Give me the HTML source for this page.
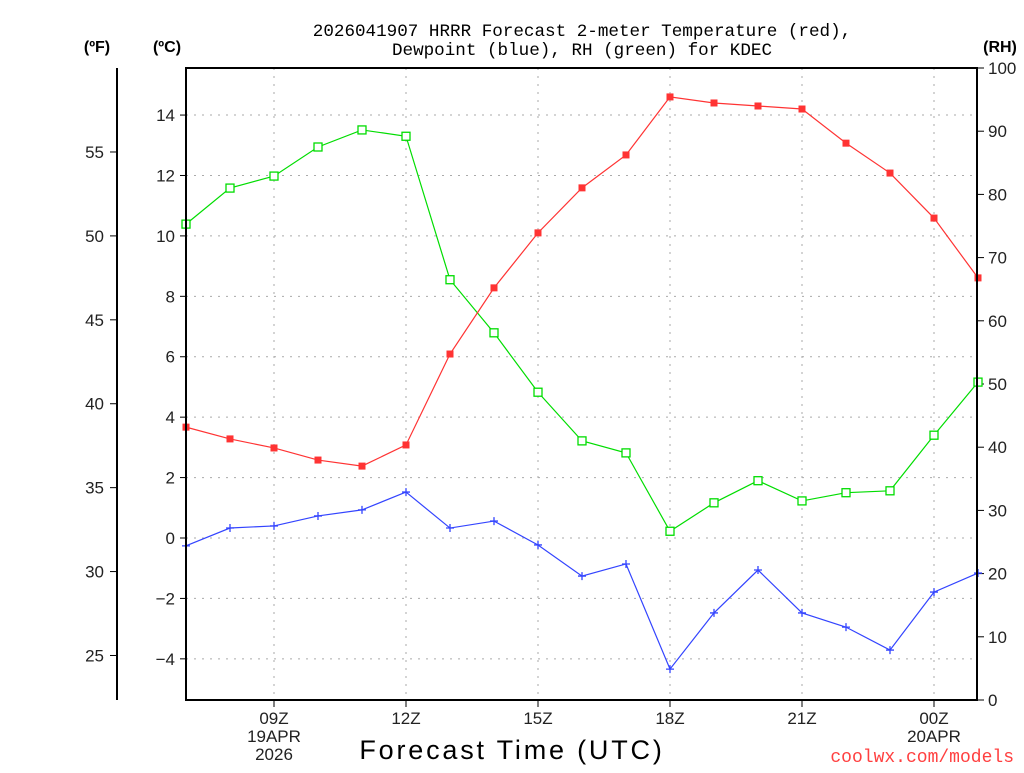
<!DOCTYPE html>
<html><head><meta charset="utf-8"><style>
body{margin:0;background:#fff;width:1024px;height:768px;overflow:hidden}
svg text{font-family:"Liberation Sans","DejaVu Sans",sans-serif}
</style></head><body>
<svg id="chart" width="1024" height="768" xmlns="http://www.w3.org/2000/svg">
<text x="582" y="36" font-size="17.6" text-anchor="middle" fill="#000" style="font-family:'Liberation Mono',monospace">2026041907 HRRR Forecast 2-meter Temperature (red),</text>
<text x="582" y="55" font-size="17.6" text-anchor="middle" fill="#000" style="font-family:'Liberation Mono',monospace">Dewpoint (blue), RH (green) for KDEC</text>
<text x="97" y="52" font-size="16" font-weight="bold" text-anchor="middle">(ºF)</text>
<text x="167" y="52" font-size="16" font-weight="bold" text-anchor="middle">(ºC)</text>
<text x="1000" y="52" font-size="16" font-weight="bold" text-anchor="middle">(RH)</text>
<text x="512" y="759" font-size="27" letter-spacing="2.8" text-anchor="middle">Forecast Time (UTC)</text>
<text x="1014" y="762" font-size="18" fill="#ff4040" text-anchor="end" style="font-family:'Liberation Mono',monospace">coolwx.com/models</text>
<g id="grid"></g><g id="axes"></g><g id="series"></g>
<rect x="186" y="68" width="791" height="632" fill="none" stroke="#000" stroke-width="2"/>
<line x1="117" y1="68" x2="117" y2="700" stroke="#000" stroke-width="2"/>
</svg>
<script>
const hours=["07","08","09","10","11","12","13","14","15","16","17","18","19","20","21","22","23","00","01"];
const tempC=[3.67,3.28,2.98,2.58,2.38,3.08,6.09,8.28,10.10,11.59,12.68,14.60,14.40,14.30,14.20,13.07,12.08,10.59,8.61];
const dewC=[-0.26,0.33,0.40,0.73,0.93,1.52,0.33,0.56,-0.23,-1.26,-0.86,-4.34,-2.48,-1.06,-2.48,-2.95,-3.71,-1.79,-1.16];
const rh=[75.3,81.0,82.9,87.5,90.2,89.2,66.5,58.1,48.7,41.0,39.1,26.7,31.2,34.7,31.5,32.8,33.1,41.9,50.3];
const cTicks=[-4,-2,0,2,4,6,8,10,12,14];
const fTicks=[25,30,35,40,45,50,55];
const rhTicks=[0,10,20,30,40,50,60,70,80,90,100];
const xTickIdx=[2,5,8,11,14,17];
const xTickLabels=["09Z","12Z","15Z","18Z","21Z","00Z"];
const xSub={2:["19APR","2026"],17:["20APR"]};

const NS="http://www.w3.org/2000/svg";
const X=i=>186+i*44;
const YC=c=>538-c*30.21;
const YF=f=>YC((f-32)*5/9);
const YR=r=>700-r*6.32;
function mk(parent,tag,attrs){const e=document.createElementNS(NS,tag);for(const k in attrs)e.setAttribute(k,attrs[k]);document.getElementById(parent).appendChild(e);return e;}
cTicks.forEach(c=>{
 const g=mk('grid','line',{x1:186,x2:977,y1:YC(c),y2:YC(c),stroke:'#aaa','stroke-dasharray':'2,6'});
 
 
 const t=mk('axes','line',{x1:180,x2:186,y1:YC(c),y2:YC(c),stroke:'#000'});
 
 
 const l=mk('axes','text',{x:175,y:YC(c)+6,'font-size':17,'text-anchor':'end',fill:'#222'});
 l.textContent=c<0?'\u2212'+(-c):c;
 
 
});
fTicks.forEach(f=>{
 const t=mk('axes','line',{x1:110,x2:117,y1:YF(f),y2:YF(f),stroke:'#000'});
 
 
 const l=mk('axes','text',{x:104,y:YF(f)+6,'font-size':17,'text-anchor':'end',fill:'#222'});
 l.textContent=f;
 
 
});
rhTicks.forEach(r=>{
 const t=mk('axes','line',{x1:977,x2:984,y1:YR(r),y2:YR(r),stroke:'#000'});
 
 
 const l=mk('axes','text',{x:988,y:YR(r)+6,'font-size':17,fill:'#222'});
 l.textContent=r;
 
 
});
xTickIdx.forEach((i,k)=>{
 const g=mk('grid','line',{x1:X(i),x2:X(i),y1:68,y2:700,stroke:'#aaa','stroke-dasharray':'2,6'});
 
 
 const t=mk('axes','line',{x1:X(i),x2:X(i),y1:700,y2:707,stroke:'#000'});
 
 
 const l=mk('axes','text',{x:X(i),y:724,'font-size':17,'text-anchor':'middle',fill:'#222'});
 l.textContent=xTickLabels[k];
 
 
 (xSub[i]||[]).forEach((s,j)=>{
  const m=mk('axes','text',{x:X(i),y:742+j*18,'font-size':17,'text-anchor':'middle',fill:'#222'});
  m.textContent=s;
  
  
 });
});
function series(vals,yf,color,name,marker){
 const p=mk('series','polyline',{points:vals.map((v,i)=>X(i)+','+yf(v)).join(' '),fill:'none',stroke:color,'stroke-width':1.2});
 
 
 vals.forEach((v,i)=>{
  let m;
  if(marker==='fill')m=mk('series','rect',{x:X(i)-3.5,y:yf(v)-3.5,width:7,height:7,fill:color});
  else if(marker==='open')m=mk('series','rect',{x:X(i)-4,y:yf(v)-4,width:8,height:8,fill:'#fff',stroke:color,'stroke-width':1.3});
  else m=mk('series','path',{d:`M${X(i)-4},${yf(v)}h8M${X(i)},${yf(v)-4}v8`,stroke:color,'stroke-width':1.3});
  
  
 });
}
series(rh,YR,'#00dd00','rh','open');
series(tempC,YC,'#ff3333','temperature','fill');
series(dewC,YC,'#3344ff','dewpoint','plus');
</script>
</body></html>
